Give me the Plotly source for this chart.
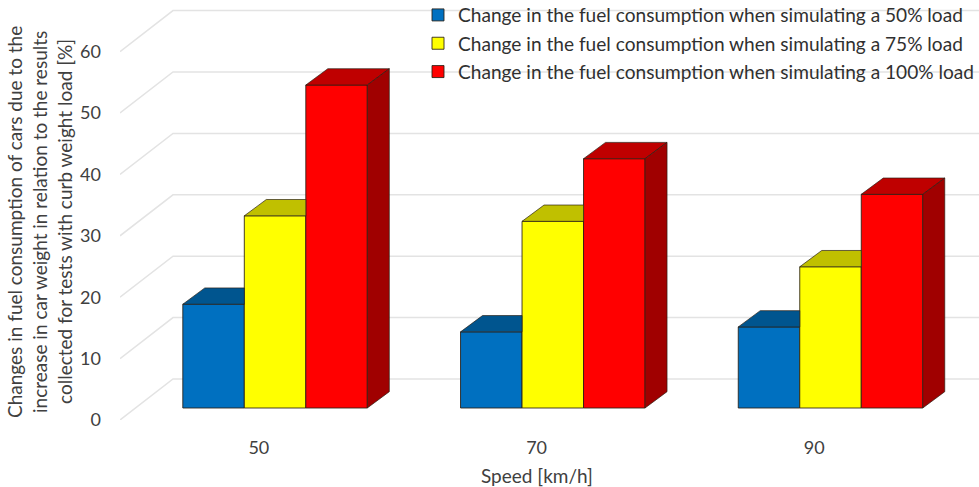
import plotly.graph_objects as go

speeds = ["50", "70", "90"]
load_names = [
    "Change in the fuel consumption when simulating a 50% load",
    "Change in the fuel consumption when simulating a 75% load",
    "Change in the fuel consumption when simulating a 100% load",
]
load_50 = [16.9, 12.4, 13.2]
load_75 = [31.3, 30.4, 23.0]
load_100 = [52.6, 40.6, 34.8]
y_ticks = [0, 10, 20, 30, 40, 50, 60]
y_title_lines = [
    "Changes in fuel consumption of cars due to the",
    "increase in car weight in relation to the results",
    "collected for tests with curb weight load [%]",
]

W, H = 979, 487
L, B = 120, 67
X_RANGE = [-0.5, 2.593]
Y_RANGE = [0, 68.4]
px_x = (W - L) / (X_RANGE[1] - X_RANGE[0])
px_y = (H - B) / (Y_RANGE[1] - Y_RANGE[0])

# oblique projection offsets, in axis units
WALL_DX, WALL_DY = 53 / px_x, 41 / px_y
BAR_DX, BAR_DY = 22 / px_x, 16.3 / px_y
FRONT_DX, FRONT_DY = 16.2 / px_x, 12 / px_y
BAR_W = 61.5 / px_x

front = ["#0070C0", "#FFFF00", "#FF0000"]
top = ["#00558F", "#C0C000", "#BF0000"]
side = ["#00406C", "#909000", "#A00000"]
EDGE = "rgba(40,30,20,0.85)"
TXT = "#404040"
FONT = "Lato"

series = [load_50, load_75, load_100]
n = len(series)
fig = go.Figure()

# front faces
for s, vals in enumerate(series):
    centers = [i + FRONT_DX + (s - (n - 1) / 2) * BAR_W for i in range(len(speeds))]
    fig.add_trace(go.Bar(
        x=centers, y=vals, base=[FRONT_DY] * len(vals), width=BAR_W, name=load_names[s],
        legendgroup=str(s), marker=dict(color=front[s], line=dict(color=EDGE, width=1)),
        customdata=speeds, hovertemplate="%{customdata} km/h: %{y}%<extra></extra>",
    ))

# top and side faces; a face hidden behind the next, taller bar is cut at its edge
for s, vals in enumerate(series):
    last = s == n - 1
    for i, v in enumerate(vals):
        c = i + FRONT_DX + (s - (n - 1) / 2) * BAR_W
        x0, x1 = c - BAR_W / 2, c + BAR_W / 2
        y1 = FRONT_DY + v
        if last:
            tx = [x0, x1, x1 + BAR_DX, x0 + BAR_DX, x0]
            ty = [y1, y1, y1 + BAR_DY, y1 + BAR_DY, y1]
        else:
            tx = [x0, x1, x1, x0 + BAR_DX, x0]
            ty = [y1, y1, y1 + BAR_DY, y1 + BAR_DY, y1]
        fig.add_trace(go.Scatter(x=tx, y=ty, mode="lines", fill="toself", fillcolor=top[s],
                                 line=dict(color=EDGE, width=0.8), showlegend=False, hoverinfo="skip"))
        if last:
            fig.add_trace(go.Scatter(
                x=[x1, x1 + BAR_DX, x1 + BAR_DX, x1, x1],
                y=[FRONT_DY, FRONT_DY + BAR_DY, y1 + BAR_DY, y1, FRONT_DY],
                mode="lines", fill="toself", fillcolor=side[s],
                line=dict(color=EDGE, width=0.8), showlegend=False, hoverinfo="skip"))

# left wall and back wall gridlines
shapes = []
for t in y_ticks:
    shapes.append(dict(
        type="path", xref="x", yref="y", layer="below",
        path=f"M{X_RANGE[0]},{t} L{X_RANGE[0] + WALL_DX},{t + WALL_DY} L{X_RANGE[1]},{t + WALL_DY}",
        line=dict(color="#E3E3E3", width=1.5),
    ))

annotations = [
    dict(text=line, xref="paper", yref="paper", x=(xc - L) / (W - L), y=1 - 222 / (H - B),
         xanchor="center", yanchor="middle", textangle=-90, showarrow=False,
         font=dict(family=FONT, size=19, color=TXT))
    for xc, line in zip([14, 39, 64], y_title_lines)
]
annotations.append(dict(
    text="Speed [km/h]", xref="paper", yref="paper", x=(537 - L) / (W - L), y=1 - 475 / (H - B),
    xanchor="center", yanchor="middle", showarrow=False,
    font=dict(family=FONT, size=19, color=TXT)))

fig.update_layout(
    width=W, height=H, margin=dict(l=L, r=0, t=0, b=B, pad=0, autoexpand=False),
    paper_bgcolor="white", plot_bgcolor="white",
    barmode="overlay", shapes=shapes, annotations=annotations,
    font=dict(family=FONT, size=18, color=TXT),
    legend=dict(x=(418 - L) / (W - L), y=1 + 4 / (H - B), xanchor="left", yanchor="top",
                bgcolor="rgba(0,0,0,0)", traceorder="grouped", tracegroupgap=0.5,
                font=dict(family=FONT, size=19.1, color="#303030")),
    xaxis=dict(range=X_RANGE, tickmode="array", tickvals=list(range(len(speeds))), ticktext=speeds,
               showgrid=False, zeroline=False, showline=False, ticks="", ticklabelstandoff=15, fixedrange=True),
    yaxis=dict(range=Y_RANGE, tickmode="array", tickvals=y_ticks, showgrid=False, zeroline=False,
               showline=False, ticks="", ticklabelstandoff=18, fixedrange=True),
)
fig.write_html("out.html", config={"displayModeBar": False},
               post_script="document.body.style.margin='0';document.body.style.overflow='hidden';")
